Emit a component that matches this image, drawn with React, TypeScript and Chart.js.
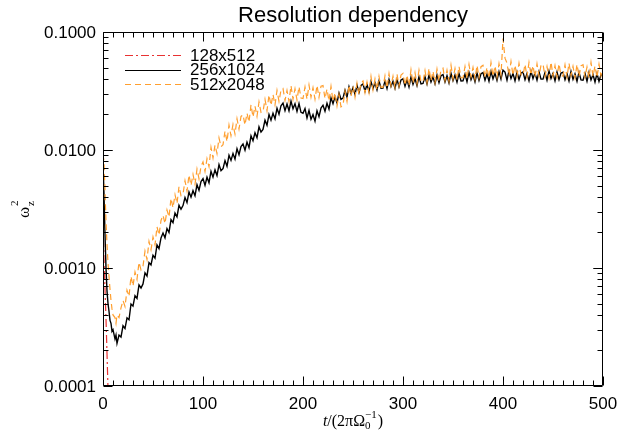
import React, { useEffect, useRef } from 'react';
import { Chart, registerables } from 'chart.js';

Chart.register(...registerables);

const TITLE = 'Resolution dependency';
const SERIES_NAMES = ['128x512', '256x1024', '512x2048'];
const X_TICKS = [0, 100, 200, 300, 400, 500];
const X_TICK_LABELS = ['0', '100', '200', '300', '400', '500'];
const Y_TICKS = [0.1, 0.01, 0.001, 0.0001];
const Y_TICK_LABELS = ['0.1000', '0.0100', '0.0010', '0.0001'];

// 128x512
const T_RED = [0, 1, 2, 3, 4, 5, 6];
const V_RED = [0.0024, 0.0012, 0.00066, 0.00037, 0.00019, 0.000095, 0.00005];

// shared time grid for 256x1024 and 512x2048
const T = [
  0, 1, 2, 3, 4, 5, 6, 7, 8, 9, 10, 12, 13, 14, 16, 18,
  20, 22, 24, 26, 28, 30, 32, 34, 36, 38,
  40, 42, 44, 46, 48, 50, 52, 54, 56, 58,
  60, 62, 64, 66, 68, 70, 72, 74, 76, 78,
  80, 82, 84, 86, 88, 90, 92, 94, 96, 98,
  100, 102, 104, 106, 108, 110, 112, 114, 116, 118,
  120, 122, 124, 126, 128, 130, 132, 134, 136, 138,
  140, 142, 144, 146, 148, 150, 152, 154, 156, 158,
  160, 162, 164, 166, 168, 170, 172, 174, 176, 178,
  180, 182, 184, 186, 188, 190, 192, 194, 196, 198,
  200, 202, 204, 206, 208, 210, 212, 214, 216, 218,
  220, 222, 224, 226, 228, 230, 232, 234, 236, 238,
  240, 242, 244, 246, 248, 250, 252, 254, 256, 258,
  260, 262, 264, 266, 268, 270, 272, 274, 276, 278,
  280, 282, 284, 286, 288, 290, 292, 294, 296, 298,
  300, 302, 304, 306, 308, 310, 312, 314, 316, 318,
  320, 322, 324, 326, 328, 330, 332, 334, 336, 338,
  340, 342, 344, 346, 348, 350, 352, 354, 356, 358,
  360, 362, 364, 366, 368, 370, 372, 374, 376, 378,
  380, 382, 384, 386, 388, 390, 392, 394, 396, 398,
  400, 402, 404, 406, 408, 410, 412, 414, 416, 418,
  420, 422, 424, 426, 428, 430, 432, 434, 436, 438,
  440, 442, 444, 446, 448, 450, 452, 454, 456, 458,
  460, 462, 464, 466, 468, 470, 472, 474, 476, 478,
  480, 482, 484, 486, 488, 490, 492, 494, 496, 498,
  500,
];

// 256x1024
const V_BLACK = [
  0.0078, 0.0042, 0.0019, 0.001, 0.00064, 0.0005, 0.00043, 0.00036, 0.00034, 0.00029, 0.0003, 0.00025, 0.00027, 0.00023, 0.00027, 0.00026,
  0.000324, 0.000307, 0.000378, 0.000364, 0.000495, 0.000475, 0.000583, 0.000552, 0.000719, 0.000677,
  0.000733, 0.00091, 0.000856, 0.00111, 0.00106, 0.00128, 0.00121, 0.00157, 0.00146, 0.0018,
  0.00198, 0.0018, 0.00216, 0.002, 0.00257, 0.00242, 0.00292, 0.00271, 0.0034, 0.00315,
  0.00338, 0.00396, 0.00359, 0.0044, 0.00399, 0.00452, 0.0041, 0.00508, 0.00456, 0.00541,
  0.00572, 0.00502, 0.00588, 0.00528, 0.0066, 0.00589, 0.00678, 0.00607, 0.00752, 0.00667,
  0.00696, 0.00813, 0.00727, 0.00902, 0.00817, 0.00935, 0.00837, 0.01026, 0.00911, 0.01071,
  0.01123, 0.00995, 0.01166, 0.01047, 0.0132, 0.01197, 0.01399, 0.0127, 0.0157, 0.01419,
  0.01495, 0.01787, 0.01619, 0.02002, 0.01786, 0.02048, 0.01838, 0.02257, 0.02009, 0.02374,
  0.02495, 0.02158, 0.02457, 0.02148, 0.02596, 0.02233, 0.0247, 0.02125, 0.02474, 0.02087,
  0.02049, 0.02247, 0.01868, 0.02167, 0.01824, 0.01995, 0.01756, 0.02149, 0.01916, 0.02268,
  0.02398, 0.0213, 0.02489, 0.0222, 0.02772, 0.0247, 0.0282, 0.02512, 0.03041, 0.02688,
  0.02754, 0.0321, 0.02815, 0.03443, 0.03021, 0.03381, 0.02958, 0.03542, 0.03069, 0.0353,
  0.03629, 0.03153, 0.03591, 0.0313, 0.03806, 0.03306, 0.0371, 0.03229, 0.03848, 0.03337,
  0.03346, 0.03831, 0.03312, 0.03971, 0.03449, 0.03822, 0.03331, 0.03964, 0.03432, 0.03922,
  0.04007, 0.03469, 0.03938, 0.03422, 0.04158, 0.03601, 0.04039, 0.03514, 0.04186, 0.03628,
  0.03666, 0.04184, 0.03616, 0.04334, 0.03762, 0.04169, 0.03631, 0.0432, 0.03729, 0.04261,
  0.04363, 0.03767, 0.04253, 0.03695, 0.04466, 0.03867, 0.04325, 0.03754, 0.04458, 0.03845,
  0.03854, 0.04398, 0.0379, 0.04543, 0.03933, 0.04358, 0.03786, 0.04504, 0.03887, 0.04431,
  0.04525, 0.03906, 0.0441, 0.03831, 0.04631, 0.04009, 0.04473, 0.03892, 0.04611, 0.03986,
  0.0475, 0.0458, 0.039, 0.04664, 0.04028, 0.04452, 0.03858, 0.04579, 0.03943, 0.04494,
  0.04579, 0.03943, 0.04452, 0.03858, 0.04664, 0.04028, 0.04494, 0.03901, 0.04622, 0.03986,
  0.03986, 0.04537, 0.03901, 0.04664, 0.04028, 0.04452, 0.03858, 0.04579, 0.03943, 0.04494,
  0.04568, 0.03929, 0.04431, 0.0384, 0.04631, 0.03971, 0.0442, 0.03827, 0.04556, 0.03929,
  0.0391, 0.04451, 0.03818, 0.04554, 0.03923, 0.04358, 0.03767, 0.0445, 0.03813, 0.04346,
  0.04305,
];

// 512x2048
const V_ORANGE = [
  0.0092, 0.008, 0.0045, 0.0025, 0.0016, 0.0011, 0.00085, 0.00066, 0.00053, 0.00045, 0.0004, 0.00038, 0.00034, 0.0004, 0.00038, 0.00046,
  0.000531, 0.000472, 0.000648, 0.000574, 0.00085, 0.000702, 0.000924, 0.000801, 0.00112, 0.000965,
  0.00104, 0.00139, 0.00118, 0.00168, 0.00143, 0.00183, 0.00157, 0.00224, 0.0019, 0.00253,
  0.0028, 0.00238, 0.0031, 0.0027, 0.00389, 0.00324, 0.00418, 0.00352, 0.0049, 0.0041,
  0.00423, 0.00549, 0.00449, 0.00615, 0.00501, 0.00621, 0.00513, 0.00689, 0.0057, 0.00726,
  0.00791, 0.00659, 0.00842, 0.00722, 0.0105, 0.00855, 0.011, 0.00933, 0.01265, 0.01065,
  0.01107, 0.01445, 0.01179, 0.01624, 0.0132, 0.01646, 0.01366, 0.01842, 0.01504, 0.01925,
  0.01989, 0.01629, 0.02052, 0.01723, 0.02419, 0.01899, 0.02354, 0.01927, 0.02554, 0.02084,
  0.02115, 0.02688, 0.02156, 0.02935, 0.02384, 0.02954, 0.0241, 0.03198, 0.02581, 0.03223,
  0.03322, 0.02626, 0.03197, 0.02584, 0.03516, 0.02691, 0.033, 0.02649, 0.03443, 0.02757,
  0.02736, 0.03416, 0.02693, 0.03561, 0.02803, 0.03368, 0.02697, 0.03526, 0.02795, 0.03476,
  0.03514, 0.02732, 0.03283, 0.02601, 0.03457, 0.02583, 0.03047, 0.02358, 0.02953, 0.0232,
  0.02394, 0.03147, 0.02578, 0.03538, 0.02848, 0.03466, 0.02801, 0.03684, 0.02946, 0.03696,
  0.03842, 0.03062, 0.03769, 0.03062, 0.04201, 0.03231, 0.03993, 0.03221, 0.04207, 0.03394,
  0.03393, 0.04245, 0.03353, 0.04443, 0.03504, 0.04218, 0.03384, 0.04407, 0.0348, 0.04323,
  0.04464, 0.03533, 0.0432, 0.03497, 0.04779, 0.03672, 0.04521, 0.03634, 0.04742, 0.03804,
  0.0378, 0.04715, 0.03722, 0.04918, 0.03868, 0.04654, 0.03724, 0.04848, 0.03836, 0.04763,
  0.04938, 0.03898, 0.04752, 0.03837, 0.05227, 0.04005, 0.04906, 0.03942, 0.05119, 0.04104,
  0.04086, 0.05096, 0.04013, 0.05301, 0.04168, 0.05003, 0.04002, 0.05209, 0.04112, 0.05082,
  0.05232, 0.0413, 0.05022, 0.04054, 0.05511, 0.04212, 0.05159, 0.04136, 0.05381, 0.04323,
  0.088, 0.06, 0.0545, 0.0425, 0.05617, 0.04284, 0.05236, 0.04189, 0.05426, 0.04332,
  0.04275, 0.0532, 0.0418, 0.0551, 0.04323, 0.05178, 0.04133, 0.05368, 0.04228, 0.05225,
  0.05334, 0.04201, 0.05098, 0.04106, 0.0557, 0.04248, 0.05192, 0.04154, 0.05381, 0.04295,
  0.0423, 0.05264, 0.04136, 0.05452, 0.04277, 0.05123, 0.04089, 0.05311, 0.04183, 0.0517,
  0.05288, 0.04165, 0.05054, 0.04072, 0.05522, 0.04212, 0.05148, 0.04118, 0.05335, 0.04259,
  0.0514,
];

const SERIES_COLORS = ['#e83232', '#000000', '#ff9f2f'];
const SERIES_DASH: number[][] = [[8, 3, 2, 3], [], [6, 4]];
const SERIES_WIDTH = [1.2, 1.4, 1.2];

const pts = (t: number[], v: number[]) => t.map((x, i) => ({ x, y: v[i] }));

const snap = (p: number) => Math.round(p) + 0.5;

const idlAxes = {
  id: 'idlAxes',
  afterDraw(chart: any) {
    const ctx: CanvasRenderingContext2D = chart.ctx;
    const a = chart.chartArea;
    const xs = chart.scales.x;
    const ys = chart.scales.y;
    const L = snap(xs.getPixelForValue(0));
    const R = snap(xs.getPixelForValue(500)) - 1;
    const Tp = snap(ys.getPixelForValue(0.1));
    const B = snap(ys.getPixelForValue(0.0001)) - 1;
    ctx.save();
    ctx.strokeStyle = '#000';
    ctx.lineWidth = 1;
    ctx.setLineDash([]);
    ctx.beginPath();
    ctx.rect(L, Tp, R - L, B - Tp);
    ctx.stroke();

    ctx.beginPath();
    for (let v = 0; v <= 500; v += 10) {
      const x = snap(xs.getPixelForValue(v));
      const len = v % 100 === 0 ? 9 : 5;
      ctx.moveTo(x, B); ctx.lineTo(x, B - len);
      ctx.moveTo(x, Tp); ctx.lineTo(x, Tp + len);
    }
    for (const d of [0.0001, 0.001, 0.01]) {
      for (let m = 1; m <= 10; m++) {
        const y = snap(ys.getPixelForValue(d * m));
        const len = m === 1 || m === 10 ? 9 : 5;
        ctx.moveTo(L, y); ctx.lineTo(L + len, y);
        ctx.moveTo(R, y); ctx.lineTo(R - len, y);
      }
    }
    ctx.stroke();

    ctx.fillStyle = '#000';
    ctx.font = '17px "Liberation Sans", Arial, sans-serif';
    ctx.textAlign = 'right';
    ctx.textBaseline = 'middle';
    Y_TICKS.forEach((v, i) => {
      ctx.fillText(Y_TICK_LABELS[i], a.left - 7, ys.getPixelForValue(v) + 1);
    });
    ctx.textAlign = 'center';
    ctx.textBaseline = 'alphabetic';
    X_TICKS.forEach((v, i) => {
      ctx.fillText(X_TICK_LABELS[i], xs.getPixelForValue(v), 409);
    });

    ctx.font = '22px "Liberation Sans", Arial, sans-serif';
    ctx.fillText(TITLE, (a.left + a.right) / 2, 22);

    const big = '16px "Liberation Serif", serif';
    const bigI = 'italic 16px "Liberation Serif", serif';
    const small = '11px "Liberation Serif", serif';
    ctx.textAlign = 'left';
    const w = (f: string, s: string) => { ctx.font = f; return ctx.measureText(s).width; };
    const w1 = w(bigI, 't');
    const w2 = w(big, '/(2πΩ');
    const w3 = Math.max(w(small, '0'), w(small, '−1'));
    const w4 = w(big, ')');
    const total = w1 + w2 + w3 + 1 + w4;
    let x = (a.left + a.right) / 2 - total / 2;
    const by = 426;
    ctx.font = bigI; ctx.fillText('t', x, by); x += w1;
    ctx.font = big; ctx.fillText('/(2πΩ', x, by); x += w2;
    ctx.font = small; ctx.fillText('0', x, by + 3); ctx.fillText('−1', x, by - 8); x += w3 + 1;
    ctx.font = big; ctx.fillText(')', x, by);

    ctx.save();
    ctx.translate(25, 215);
    ctx.rotate(-Math.PI / 2);
    ctx.font = '17px "Liberation Serif", serif';
    ctx.fillText('ω', -3, 4);
    ctx.font = small;
    ctx.fillText('2', 9, -7);
    ctx.fillText('z', 9, 9);
    ctx.restore();

    ctx.font = '17px "Liberation Sans", Arial, sans-serif';
    ctx.textBaseline = 'middle';
    SERIES_NAMES.forEach((name, i) => {
      const y = 55 + i * 14.5;
      const ly = snap(y);
      ctx.strokeStyle = SERIES_COLORS[i];
      ctx.lineWidth = 1;
      ctx.setLineDash(SERIES_DASH[i]);
      ctx.beginPath();
      ctx.moveTo(125, ly);
      ctx.lineTo(181, ly);
      ctx.stroke();
      ctx.fillStyle = '#000';
      ctx.fillText(name, 190, y + 1);
    });
    ctx.restore();
  },
};

export default function App() {
  const ref = useRef<HTMLCanvasElement>(null);
  useEffect(() => {
    const chart = new Chart(ref.current as HTMLCanvasElement, {
      type: 'line',
      data: {
        datasets: [
          {
            label: SERIES_NAMES[0],
            data: pts(T_RED, V_RED),
            borderColor: SERIES_COLORS[0],
            borderDash: SERIES_DASH[0],
            borderWidth: SERIES_WIDTH[0],
            order: 2,
          },
          {
            label: SERIES_NAMES[1],
            data: pts(T, V_BLACK),
            borderColor: SERIES_COLORS[1],
            borderDash: SERIES_DASH[1],
            borderWidth: SERIES_WIDTH[1],
            order: 1,
          },
          {
            label: SERIES_NAMES[2],
            data: pts(T, V_ORANGE),
            borderColor: SERIES_COLORS[2],
            borderDash: SERIES_DASH[2],
            borderWidth: SERIES_WIDTH[2],
            order: 0,
          },
        ],
      },
      options: {
        responsive: false,
        animation: false,
        devicePixelRatio: 1,
        layout: { padding: { left: 103, top: 32, right: 33, bottom: 50 } },
        elements: { point: { radius: 0 }, line: { tension: 0 } },
        datasets: { line: { clip: 0 } as any },
        plugins: {
          legend: { display: false },
          title: { display: false },
          tooltip: { enabled: false },
        },
        scales: {
          x: { type: 'linear', min: 0, max: 500, display: false },
          y: { type: 'logarithmic', min: 0.0001, max: 0.1, display: false },
        },
      },
      plugins: [idlAxes],
    });
    return () => chart.destroy();
  }, []);
  return (
    <div style={{ position: 'fixed', left: 0, top: 0, width: 636, height: 436, background: '#fff' }}>
      <canvas ref={ref} width={636} height={436} style={{ display: 'block', width: 636, height: 436 }} />
    </div>
  );
}
